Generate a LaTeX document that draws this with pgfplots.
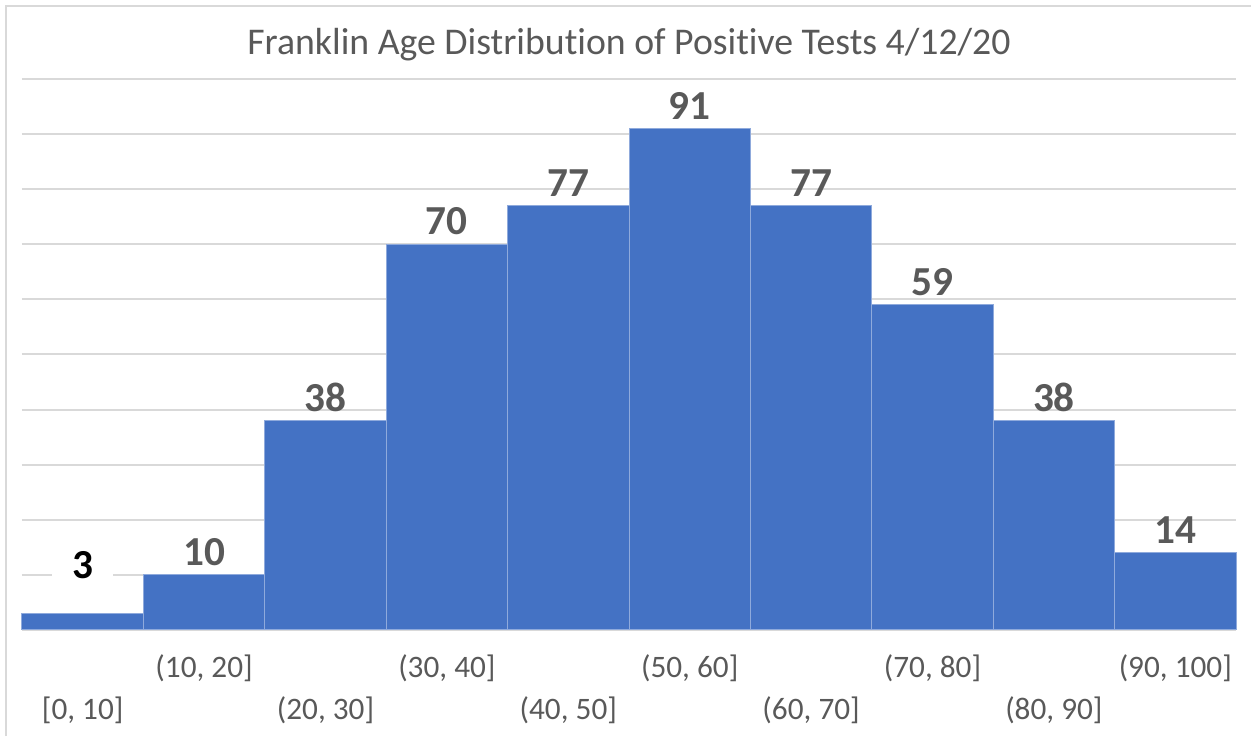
\documentclass[border=0pt]{standalone}
\usepackage{pgfplots}
\pgfplotsset{compat=1.18}
\usepackage{fontspec}
\setmainfont{Carlito}[Ligatures=NoCommon]
\definecolor{barblue}{HTML}{4472C4}
\definecolor{barline}{HTML}{8FAADC}
\definecolor{txtgray}{HTML}{595959}
\definecolor{gridgray}{HTML}{D9D9D9}
\begin{document}
\begin{tikzpicture}
\begin{axis}[
  scale only axis,
  width=485.6pt, height=220.4pt,
  xmin=0, xmax=10, ymin=0, ymax=100,
  /pgf/number format/assume math mode=true,
  axis line style={draw=none},
  tick style={draw=none},
  ytick={0,10,...,100},
  yticklabels={},
  ymajorgrids,
  grid style={gridgray, line width=0.8pt},
  xtick={1.5,3.5,5.5,7.5,9.5},
  xticklabels={{(10, 20]},{(30, 40]},{(50, 60]},{(70, 80]},{(90, 100]}},
  xticklabel style={anchor=center, yshift=-15.2pt, font=\fontsize{12.5}{14}\selectfont, text=txtgray},
  extra x ticks={0.5,2.5,4.5,6.5,8.5},
  extra x tick labels={{[0, 10]},{(20, 30]},{(40, 50]},{(60, 70]},{(80, 90]}},
  extra x tick style={grid=none, xticklabel style={yshift=-16.8pt}},
  title={Franklin Age Distribut\kern0pt ion of Posit\kern0pt ive Tests 4/12/20},
  title style={at={(0.5,1)}, anchor=center, yshift=7.6pt, font=\fontsize{15.1}{18}\selectfont, text=txtgray},
  clip=false,
]
\addplot[ybar interval, fill=barblue, draw=barline, line width=0.4pt] coordinates {
  (0,3) (1,10) (2,38) (3,70) (4,77) (5,91) (6,77) (7,59) (8,38) (9,14) (10,14)
};
\addplot[draw=none, mark=none, nodes near coords,
  nodes near coords style={anchor=center, yshift=9.2pt, font=\fontsize{16.5}{19}\selectfont\bfseries, text=txtgray}]
  coordinates {
  (1.5,10) (2.5,38) (3.5,70) (4.5,77) (5.5,91) (6.5,77) (7.5,59) (8.5,38) (9.5,14)
};
\addplot[draw=none, mark=none, nodes near coords,
  nodes near coords style={anchor=center, yshift=19.2pt, fill=white, inner xsep=8pt, font=\fontsize{16.5}{19}\selectfont\bfseries, text=black}]
  coordinates {
  (0.5,3)
};
\end{axis}
\coordinate (BL) at ([xshift=-6.4pt,yshift=-42.4pt]current axis.south west);
\coordinate (TL) at ([xshift=-6.4pt,yshift=29.2pt]current axis.north west);
\coordinate (TR) at ([xshift=6pt,yshift=29.2pt]current axis.north east);
\coordinate (BB1) at ([xshift=-8.8pt,yshift=-42.4pt]current axis.south west);
\coordinate (BB2) at ([xshift=6pt,yshift=31.6pt]current axis.north east);
\draw[gridgray, line width=0.8pt] (BL) -- (TL) -- (TR);
\pgfresetboundingbox
\path (BB1) rectangle (BB2);
\end{tikzpicture}
\end{document}
